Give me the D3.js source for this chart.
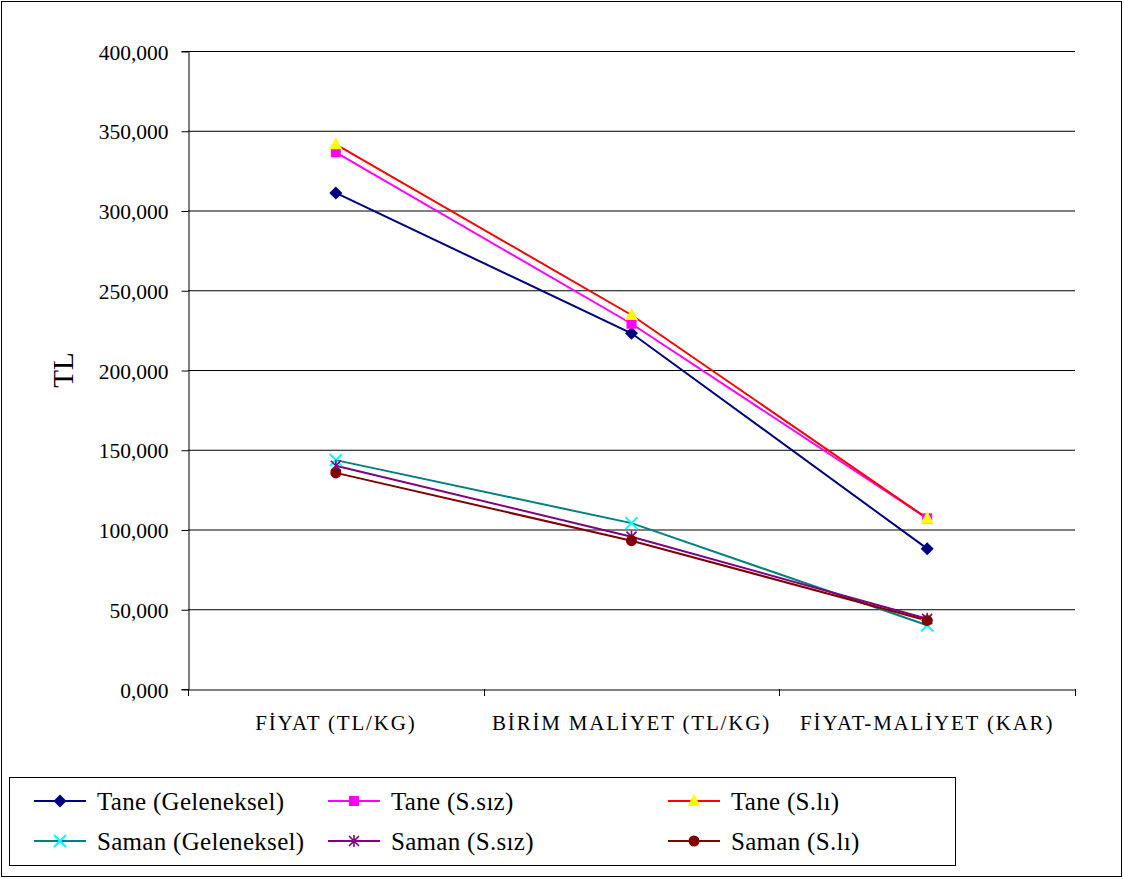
<!DOCTYPE html>
<html><head><meta charset="utf-8">
<script src="https://cdn.jsdelivr.net/npm/d3@7"></script>
<style>body{margin:0;background:#fff;} svg{display:block;font-family:"Liberation Serif","Times New Roman",serif;}</style>
</head><body>
<svg id="c" width="1124" height="879"></svg>
<script>
const categories = ["FİYAT (TL/KG)", "BİRİM MALİYET (TL/KG)", "FİYAT-MALİYET (KAR)"];
const yTicks = [0, 50, 100, 150, 200, 250, 300, 350, 400];
const seriesNames = ["Tane (Geleneksel)", "Tane (S.sız)", "Tane (S.lı)", "Saman (Geleneksel)", "Saman (S.sız)", "Saman (S.lı)"];
const taneGeleneksel = [311, 223, 88];
const taneSsiz = [336.5, 229, 107];
const taneSli = [341.5, 234.5, 107];
const samanGeleneksel = [143.5, 104, 40];
const samanSsiz = [140, 95.5, 44];
const samanSli = [135.5, 93, 43];
const seriesValues = [taneGeleneksel, taneSsiz, taneSli, samanGeleneksel, samanSsiz, samanSli];
const lineColors = ["#000080", "#FF00FF", "#FF0000", "#008080", "#800080", "#800000"];
const markerColors = ["#000080", "#FF00FF", "#FFFF00", "#00FFFF", "#800080", "#800000"];
const markerTypes = ["diamond", "square", "triangle", "x", "star", "circle"];

const svg = d3.select("#c");
svg.append("rect").attr("x",1.5).attr("y",1.5).attr("width",1120).attr("height",875).attr("fill","#fff").attr("stroke","#000").attr("stroke-width",1);

const L = 188, R = 1075, T = 51, B = 689;
const x = d3.scaleBand().domain(categories).range([L, R]).padding(0);
const y = d3.scaleLinear().domain([0, 400]).range([B, T]);

// gridlines
svg.append("g").selectAll("line").data(yTicks.filter(d=>d>0)).join("line")
  .attr("x1", L).attr("x2", R).attr("y1", d=>y(d)+0.5).attr("y2", d=>y(d)+0.5)
  .attr("stroke", "#000").attr("stroke-width", 1);

// y axis
const yAxis = svg.append("g").attr("transform", `translate(${L+0.5},0)`)
  .call(d3.axisLeft(y).tickValues(yTicks).tickSize(7).tickPadding(13)
    .tickFormat(d => d + ",000"));
yAxis.selectAll("text").attr("font-size", 21.5).attr("font-family", "Liberation Serif").attr("fill","#000");
yAxis.select(".domain").attr("stroke","#000");
yAxis.selectAll(".tick line").attr("stroke","#000").attr("transform","translate(0,0.5)");
yAxis.selectAll(".tick text").attr("dy","0.35em").attr("transform","translate(0,0.5)");

// x axis
const xAxis = svg.append("g").attr("transform", `translate(0,${B+0.5})`)
  .call(d3.axisBottom(x).tickSize(0).tickPadding(26));
xAxis.select(".domain").attr("stroke","#000");
xAxis.selectAll("text").attr("font-size", 21).attr("font-family","Liberation Serif").attr("fill","#000").attr("letter-spacing","1.8px");
const bounds = categories.map(c => x(c)).concat([R]);
svg.append("g").selectAll("line").data(bounds).join("line")
  .attr("x1", d=>Math.round(d)+0.5).attr("x2", d=>Math.round(d)+0.5).attr("y1", B).attr("y2", B+7)
  .attr("stroke","#000");

// y title
svg.append("text").attr("transform","translate(73,370) rotate(-90)").attr("text-anchor","middle")
  .attr("font-size", 29).text("TL");

function marker(g, type, cx, cy, color) {
  const s = 5.5;
  if (type === "diamond") g.append("path").attr("d", `M${cx},${cy-s-1}L${cx+s+1},${cy}L${cx},${cy+s+1}L${cx-s-1},${cy}Z`).attr("fill", color);
  else if (type === "square") g.append("rect").attr("x", cx-5).attr("y", cy-5).attr("width",10).attr("height",10).attr("fill", color);
  else if (type === "triangle") g.append("path").attr("d", `M${cx},${cy-7}L${cx+6.5},${cy+5}L${cx-6.5},${cy+5}Z`).attr("fill", color);
  else if (type === "circle") g.append("circle").attr("cx",cx).attr("cy",cy).attr("r",5.5).attr("fill",color);
  else if (type === "x") g.append("path").attr("d", `M${cx-6},${cy-6}L${cx+6},${cy+6}M${cx-6},${cy+6}L${cx+6},${cy-6}`).attr("stroke",color).attr("stroke-width",2);
  else if (type === "star") g.append("path").attr("d", `M${cx-5},${cy-5}L${cx+5},${cy+5}M${cx-5},${cy+5}L${cx+5},${cy-5}M${cx},${cy-6}L${cx},${cy+6}`).attr("stroke",color).attr("stroke-width",1.6);
}

const line = d3.line().x((d,i)=>x(categories[i]) + x.bandwidth()/2).y(d=>y(d));
const plot = svg.append("g");
seriesValues.forEach((vals, si) => {
  plot.append("path").attr("d", line(vals)).attr("fill","none").attr("stroke", lineColors[si]).attr("stroke-width", 2);
});
seriesValues.forEach((vals, si) => {
  const g = plot.append("g");
  vals.forEach((v,i)=> marker(g, markerTypes[si], x(categories[i]) + x.bandwidth()/2, y(v), markerColors[si]));
});

// legend
svg.append("rect").attr("x",9.5).attr("y",777.5).attr("width",946).attr("height",88).attr("fill","#fff").attr("stroke","#000");
const colX = [34, 328, 668];
const rowY = [801, 841];
seriesNames.forEach((name, si) => {
  const cx0 = colX[si % 3], cy0 = rowY[Math.floor(si/3)];
  const g = svg.append("g");
  g.append("line").attr("x1", cx0).attr("x2", cx0+52).attr("y1", cy0).attr("y2", cy0).attr("stroke", lineColors[si]).attr("stroke-width", 2);
  marker(g, markerTypes[si], cx0+26, cy0, markerColors[si]);
  g.append("text").attr("x", cx0+63).attr("y", cy0).attr("dy","0.35em").attr("font-size", 25).attr("letter-spacing","0.3px").text(name);
});
</script>
</body></html>
